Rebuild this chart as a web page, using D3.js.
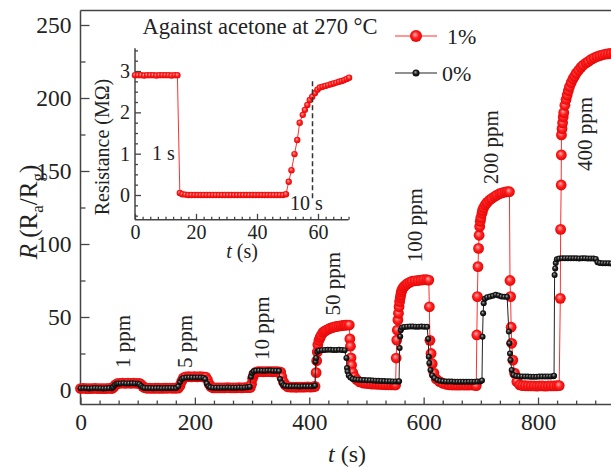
<!DOCTYPE html>
<html><head><meta charset="utf-8">
<script src="https://cdn.jsdelivr.net/npm/d3@7"></script>
<style>
body{margin:0;background:#fff}
svg{display:block}
</style>
</head><body>
<svg id="c" width="611" height="467"></svg>
<script>
// ---------- data ----------
const xTicksMain = [0, 200, 400, 600, 800];
const yTicksMain = [0, 50, 100, 150, 200, 250];
const legendLabels = ["1%", "0%"];
const ppmLabels = [
  {text: "1 ppm", t: 74, v: 15},
  {text: "5 ppm", t: 182, v: 15},
  {text: "10 ppm", t: 317, v: 20.5},
  {text: "50 ppm", t: 441, v: 51},
  {text: "100 ppm", t: 585, v: 87.5},
  {text: "200 ppm", t: 718, v: 141},
  {text: "400 ppm", t: 882, v: 150}
];
const series1pct = [
[0,1.0],[5,1.1],[10,1.0],[15,0.9],[20,1.0],[25,1.1],[30,1.0],[35,1.0],[40,0.9],[45,1.0],[50,1.1],[55,1.0],
[58,2],[61,3.5],[64,4.3],[68,4.6],[73,4.7],[78,4.6],[83,4.7],[88,4.6],[93,4.7],[98,4.6],[103,4.5],[106,3.8],[109,2.5],[112,1.6],
[116,1.2],[121,1.2],[126,1.1],[131,1.2],[136,1.2],[141,1.1],[146,1.2],[151,1.2],[156,1.3],[161,1.2],[166,1.2],[171,1.3],
[174,3],[177,6],[180,8.3],[184,9],[189,9.1],[194,9],[199,9.1],[204,9],[209,9.1],[214,9],[219,8.8],[222,7],[225,4],[228,2.3],
[232,1.5],[237,1.5],[242,1.4],[247,1.5],[252,1.5],[257,1.6],[262,1.5],[267,1.5],[272,1.5],[277,1.6],[282,1.5],[287,1.6],[292,1.6],[297,1.7],
[299,4],[301,8],[303,10.5],[306,12],[310,12.5],[315,12.6],[320,12.5],[325,12.6],[330,12.6],[335,12.5],[340,12.6],[345,12.5],[350,12.3],[352,9],[355,5.5],[358,3.5],
[362,2.2],[367,2],[372,2],[377,1.9],[382,2],[387,2],[392,2],[397,2.1],[402,2],[407,2.1],
[410,2.5],[412,11.9],[413,20],[414,26],[415,31],[417,34],[419,36],[421,37.5],[424,39.5],[427,40.3],[430,41],[434,41.8],[437,42.3],[441,42.8],[444,43.2],[448,43.5],[452,43.8],[456,44],[460,44.2],[463,44.4],[466,44.5],[470,44.5],
[471,35],[472,30],[473,22],[474,17],[476,12],[479,9],[483,7],[488,5.5],[494,4.8],[499,4.5],[504,4.3],[509,4.1],[514,4],[519,3.9],[524,3.8],[529,3.7],[534,3.6],[539,3.6],[544,3.5],[549,3.5],
[551,3.5],[552,21.9],[553,34.2],[554,41],[555,48],[556,52.5],[557,57],[558,60.5],[559,63],[560,65],[561,67],[562,68.5],[564,70],[566,71],[569,72],[572,73],[576,73.8],[580,74.5],[585,74.8],[590,75],[595,75.3],[600,75.5],[605,75.5],[609,75.3],
[610,57],[611,34],[613,25],[615,18],[618,11.6],[622,7.5],[628,5.7],[634,4.5],[640,3.8],[645,3.5],[650,3.4],[655,3.4],[660,3.3],[665,3.4],[670,3.4],[675,3.3],[680,3.4],[685,3.4],[690,3.3],
[692,3],[693,37.7],[694,64],[695,84.5],[696,97],[697,106],[698,112],[699,115.5],[700,118],[702,121],[703,123],[705,125],[708,127],[711,128.5],[715,130],[719,131.2],[724,132.5],[728,133.5],[733,134.5],[737,135],[742,135.5],[746,135.8],[750,135.8],
[751,75],[752,64],[753,43],[754,32],[756,20.5],[759,11.6],[763,5.7],[768,3.5],[773,3],[778,2.9],[783,2.8],[788,2.8],[793,2.8],[798,2.7],[803,2.8],[808,2.8],[813,2.7],[818,2.8],[823,2.8],[828,2.8],[833,2.9],
[837,3],[839,62.8],[839.5,110],[840.5,140.4],[840.8,161],[841,174.7],[842,179],[843,183],[844,187],[845,190],[847,195],[849,199],[851,202],[853,205],[855,207.7],[858,210.5],[861,213],[864,215],[867,217],[871,219],[875,221],[879,222.5],[884,224],[888,225],[893,226.5],[898,227.5],[903,228.3],[908,229],[913,229.6],[918,230],[923,230.3],[928,230.6],[933,230.8]
];
const series0pct = [
[0,1.2],[5,1.3],[10,1.2],[15,1.1],[20,1.2],[25,1.3],[30,1.2],[35,1.2],[40,1.1],[45,1.2],[50,1.3],[55,1.2],
[57,2],[60,3.5],[63,4.2],[66,4.5],[70,4.5],[75,4.6],[80,4.5],[85,4.5],[90,4.6],[95,4.5],[100,4.5],[103,4],[106,2.8],[109,1.8],[112,1.4],
[117,1.3],[122,1.3],[127,1.2],[132,1.3],[137,1.3],[142,1.2],[147,1.3],[152,1.3],[157,1.4],[162,1.3],[167,1.3],
[171,2.5],[174,5.5],[177,7.5],[180,8.2],[185,8.5],[190,8.6],[195,8.5],[200,8.5],[205,8.6],[210,8.5],[215,8.4],[218,7.5],[221,4.5],[224,2.5],[227,1.8],
[232,1.6],[237,1.6],[242,1.5],[247,1.6],[252,1.6],[257,1.7],[262,1.6],[267,1.6],[272,1.6],[277,1.7],[282,1.6],[287,1.7],[292,1.8],
[296,2.3],[298,9.1],[300,11.6],[303,12.8],[307,13.2],[312,13.3],[317,13.2],[322,13.2],[327,13.3],[332,13.3],[337,13.2],[342,13.2],[347,13.1],[349,7.5],[352,4.8],[355,3.3],
[358,2.8],[363,2.6],[368,2.5],[373,2.5],[378,2.5],[383,2.4],[388,2.5],[393,2.5],[398,2.5],[403,2.5],[408,2.6],
[410,3],[411,19.4],[412,22],[414,26.2],[417,27],[422,27.3],[427,27.4],[432,27.5],[437,27.5],[442,27.4],[447,27.4],[452,27.5],[457,27.4],[462,27.3],
[465,22],[466,15],[467,12.6],[469,10],[472,8.5],[476,7.5],[481,7.2],[486,7],[491,6.9],[496,6.8],[501,6.7],[506,6.6],[511,6.5],[516,6.4],[521,6.3],[526,6.2],[531,6.1],[536,6],[541,6],[546,5.9],[551,5.9],[556,5.9],
[557,6],[558,28.7],[559,36.7],[560,41],[562,42.8],[566,43.2],[571,43.4],[576,43.5],[581,43.5],[586,43.4],[591,43.4],[596,43.5],[601,43.4],[606,43.3],
[608,35],[609,22.8],[610,18.5],[612,13.7],[615,10],[619,8.2],[624,6.8],[629,6.3],[634,6],[639,5.9],[644,5.8],[649,5.8],[654,5.7],[659,5.7],[664,5.7],[669,5.7],[674,5.6],[679,5.7],[684,5.7],[689,5.7],[694,5.8],[699,5.9],
[702,6.5],[703,36.5],[704,52.5],[705,59.4],[707,62.5],[711,63.5],[716,64],[721,64.5],[726,65.2],[731,64.8],[736,64],[741,63.8],[746,63.8],
[749,40],[750,32],[751,25],[752,20.5],[754,13.7],[757,10.3],[762,9.6],[767,9.4],[772,9.3],[777,9.2],[782,9.2],[787,9.1],[792,9.1],[797,9.1],[802,9.2],[807,9.2],[812,9.2],[817,9.3],[822,9.3],[827,9.4],
[828,9.8],[829,78.8],[830,83.3],[831,87],[833,89.5],[837,90],[842,90.2],[847,90.2],[852,90.3],[857,90.2],[862,90.2],[867,90.2],[872,90.1],[877,90.2],[882,90.2],[887,90.1],[892,90.1],[897,90],
[901,89.8],[904,87.5],[908,87],[913,86.8],[918,86.8],[923,86.8],[928,86.7],[933,86.8],[938,86.8]
];
// inset: response/recovery at 270 °C
const xTicksInset = [0, 20, 40, 60];
const yTicksInset = [0, 1, 2, 3];
const insetSeries = [
[0,2.9],[1,2.9],[2,2.9],[3,2.89],[4,2.9],[5,2.9],[6,2.9],[7,2.89],[8,2.9],[9,2.9],[10,2.9],[11,2.9],[12,2.89],[13,2.9],[13.9,2.9],
[14.7,0.05],[15.5,0.02],[16.5,0.01],[17.5,0],[18.5,0],[19.5,0],[20.5,0],[21.5,0],[22.5,0],[23.5,0],[24.5,0],[25.5,0],[26.5,0],[27.5,0],[28.5,0],[29.5,0],[30.5,0],[31.5,0],[32.5,0],[33.5,0],[34.5,0],[35.5,0],[36.5,0],[37.5,0],[38.5,0],[39.5,0],[40.5,0],[41.5,0],[42.5,0],[43.5,0],[44.5,0],[45.5,0],[46.5,0],[47.5,0],[48.5,0],[49.5,0.02],
[50.4,0.32],[51.3,0.6],[52.3,0.99],[53.2,1.33],[54,1.75],[55,1.94],[55.7,2.06],[56.5,2.18],[57.3,2.3],[58.1,2.38],[59,2.47],[59.8,2.55],[60.6,2.6],[61.5,2.62],[62.4,2.64],[63.3,2.66],[64.2,2.68],[65.1,2.7],[66,2.72],[66.9,2.74],[67.8,2.76],[68.6,2.78],[69.4,2.81],[70.2,2.84]
];
const insetDashT = 58.2, insetDashV = [2.75, -0.12];

// ---------- drawing ----------
const FONT = '"Liberation Serif", "DejaVu Serif", "Times New Roman", serif';
const svg = d3.select("#c").style("font-family", FONT);
const defs = svg.append("defs");
function ball(id, c0, c1, c2){
  const g = defs.append("radialGradient").attr("id", id).attr("cx","50%").attr("cy","50%").attr("r","55%").attr("fx","40%").attr("fy","35%");
  g.append("stop").attr("offset","0%").attr("stop-color",c0);
  g.append("stop").attr("offset","50%").attr("stop-color",c1);
  g.append("stop").attr("offset","100%").attr("stop-color",c2);
}
ball("gRed", "#ffb0b0", "#ff2020", "#e00000");
ball("gBlack", "#b0b0b0", "#202020", "#000000");

const x = d3.scaleLinear().domain([0, 940]).range([80.5, 80.5 + 940 * 0.5719]);
const y = d3.scaleLinear().domain([-10, 260]).range([404.6, 10.4]);

function txt(sel){ return sel.style("font-family", FONT).attr("fill", "#222"); }

// frame
const axCol = "#444";
svg.append("line").attr("x1", x(0)).attr("x2", 611).attr("y1", y(260)).attr("y2", y(260)).attr("stroke", axCol).attr("stroke-width", 1.5);
svg.append("line").attr("x1", x(0)).attr("x2", 611).attr("y1", y(-10)).attr("y2", y(-10)).attr("stroke", axCol).attr("stroke-width", 1.5);
svg.append("line").attr("x1", x(0)).attr("x2", x(0)).attr("y1", y(-10)).attr("y2", y(260)).attr("stroke", axCol).attr("stroke-width", 1.5);

function styleAxis(g, fs){
  g.attr("font-family", null).attr("font-size", null);
  g.select(".domain").remove();
  g.selectAll(".tick line").attr("stroke", axCol).attr("stroke-width", 1.3);
  g.selectAll(".tick text").attr("font-size", fs).call(txt);
}
// main x axis
const minorX = d3.range(0, 941, 200/6).filter(v => !xTicksMain.some(m => Math.abs(m - v) < 1e-6));
svg.append("g").attr("transform", `translate(0,${y(-10)})`)
  .call(d3.axisBottom(x).tickValues(minorX).tickSize(-4).tickFormat(""))
  .call(g => styleAxis(g, 23));
svg.append("g").attr("transform", `translate(0,${y(-10)})`)
  .call(d3.axisBottom(x).tickValues(xTicksMain).tickSize(-7).tickPadding(9).tickFormat(d3.format("d")))
  .call(g => styleAxis(g, 23.5));
// main y axis
const minorY = d3.range(0, 260, 25).filter(v => !yTicksMain.includes(v));
svg.append("g").attr("transform", `translate(${x(0)},0)`)
  .call(d3.axisLeft(y).tickValues(minorY).tickSize(-5).tickFormat(""))
  .call(g => styleAxis(g, 23));
svg.append("g").attr("transform", `translate(${x(0)},0)`)
  .call(d3.axisLeft(y).tickValues(yTicksMain).tickSize(-9).tickPadding(9).tickFormat(d3.format("d")))
  .call(g => styleAxis(g, 23.5));

// axis titles
const xt = svg.append("text").attr("x", 347).attr("y", 462).attr("text-anchor", "middle").attr("font-size", 24).call(txt);
xt.append("tspan").attr("font-style", "italic").text("t");
xt.append("tspan").text(" (s)");
const yt = svg.append("text").attr("transform", "translate(37,212) rotate(-90)").attr("text-anchor", "middle").attr("font-size", 25).call(txt);
yt.append("tspan").attr("font-style", "italic").text("R");
yt.append("tspan").text(" (R");
yt.append("tspan").attr("font-size", 17).attr("dy", 6).text("a");
yt.append("tspan").attr("dy", -6).text("/R");
yt.append("tspan").attr("font-size", 17).attr("dy", 6).text("g");
yt.append("tspan").attr("dy", -6).text(")");

// series
const line = d3.line().x(d => x(d[0])).y(d => y(d[1]));
svg.append("path").datum(series1pct).attr("d", line).attr("fill", "none").attr("stroke", "#ff3030").attr("stroke-width", 1);
svg.append("g").selectAll("circle").data(series1pct).join("circle")
  .attr("cx", d => x(d[0])).attr("cy", d => y(d[1])).attr("r", 5.4).attr("fill", "url(#gRed)");
svg.append("path").datum(series0pct).attr("d", line).attr("fill", "none").attr("stroke", "#222").attr("stroke-width", 1);
svg.append("g").selectAll("circle").data(series0pct).join("circle")
  .attr("cx", d => x(d[0])).attr("cy", d => y(d[1])).attr("r", 3).attr("fill", "url(#gBlack)");

// ppm labels
svg.append("g").selectAll("text").data(ppmLabels).join("text")
  .attr("transform", d => `translate(${x(d.t)},${y(d.v)}) rotate(-90)`)
  .attr("dy", "0.35em").attr("font-size", 21).call(txt).text(d => d.text);

// legend
const leg = [{c: "#ff3030", fill: "url(#gRed)", r: 6, y: 36, tx: 447}, {c: "#222", fill: "url(#gBlack)", r: 3.5, y: 73, tx: 442}];
leg.forEach((l, i) => {
  svg.append("line").attr("x1", 395).attr("x2", 437).attr("y1", l.y).attr("y2", l.y).attr("stroke", l.c).attr("stroke-width", 1.2);
  svg.append("circle").attr("cx", 416).attr("cy", l.y).attr("r", l.r).attr("fill", l.fill);
  svg.append("text").attr("x", l.tx).attr("y", l.y).attr("dy", "0.35em").attr("font-size", 22).call(txt).text(legendLabels[i]);
});

// inset
svg.append("text").attr("x", 260).attr("y", 34).attr("text-anchor", "middle").attr("font-size", 22.5).call(txt).text("Against acetone at 270 °C");
const xi = d3.scaleLinear().domain([0, 70]).range([135, 348.5]);
const yi = d3.scaleLinear().domain([-0.6, 3.55]).range([219.8, 48.3]);
svg.append("line").attr("x1", xi(0)).attr("x2", xi(70)).attr("y1", yi(-0.6)).attr("y2", yi(-0.6)).attr("stroke", axCol).attr("stroke-width", 1.5);
svg.append("line").attr("x1", xi(0)).attr("x2", xi(0)).attr("y1", yi(-0.6)).attr("y2", yi(3.55)).attr("stroke", axCol).attr("stroke-width", 1.5);
const minorXi = d3.range(0, 71, 2.5).filter(v => !xTicksInset.includes(v));
svg.append("g").attr("transform", `translate(0,${yi(-0.6)})`)
  .call(d3.axisBottom(xi).tickValues(minorXi).tickSize(-3).tickFormat(""))
  .call(g => styleAxis(g, 20));
svg.append("g").attr("transform", `translate(0,${yi(-0.6)})`)
  .call(d3.axisBottom(xi).tickValues(xTicksInset).tickSize(-6).tickPadding(5).tickFormat(d3.format("d")))
  .call(g => styleAxis(g, 20));
const minorYi = d3.range(-0.5, 3.56, 0.25).filter(v => !yTicksInset.includes(v));
svg.append("g").attr("transform", `translate(${xi(0)},0)`)
  .call(d3.axisLeft(yi).tickValues(minorYi).tickSize(-3).tickFormat(""))
  .call(g => styleAxis(g, 20));
svg.append("g").attr("transform", `translate(${xi(0)},0)`)
  .call(d3.axisLeft(yi).tickValues(yTicksInset).tickSize(-6).tickPadding(5).tickFormat(d3.format("d")))
  .call(g => styleAxis(g, 20));
const lineI = d3.line().x(d => xi(d[0])).y(d => yi(d[1]));
svg.append("path").datum(insetSeries).attr("d", lineI).attr("fill", "none").attr("stroke", "#ff3030").attr("stroke-width", 1);
svg.append("g").selectAll("circle").data(insetSeries).join("circle")
  .attr("cx", d => xi(d[0])).attr("cy", d => yi(d[1])).attr("r", 3.2).attr("fill", "url(#gRed)");
svg.append("line").attr("x1", xi(insetDashT)).attr("x2", xi(insetDashT)).attr("y1", yi(insetDashV[0])).attr("y2", yi(insetDashV[1]))
  .attr("stroke", "#333").attr("stroke-width", 1.5).attr("stroke-dasharray", "5,3");
svg.append("text").attr("x", 152).attr("y", 160).attr("font-size", 20).call(txt).text("1 s");
svg.append("text").attr("x", 290).attr("y", 210).attr("font-size", 20).call(txt).text("10 s");
const xti = svg.append("text").attr("x", 242).attr("y", 258).attr("text-anchor", "middle").attr("font-size", 20).call(txt);
xti.append("tspan").attr("font-style", "italic").text("t");
xti.append("tspan").text(" (s)");
svg.append("text").attr("transform", "translate(109,147) rotate(-90)").attr("text-anchor", "middle").attr("font-size", 20).call(txt).text("Resistance (MΩ)");
</script>
</body></html>
